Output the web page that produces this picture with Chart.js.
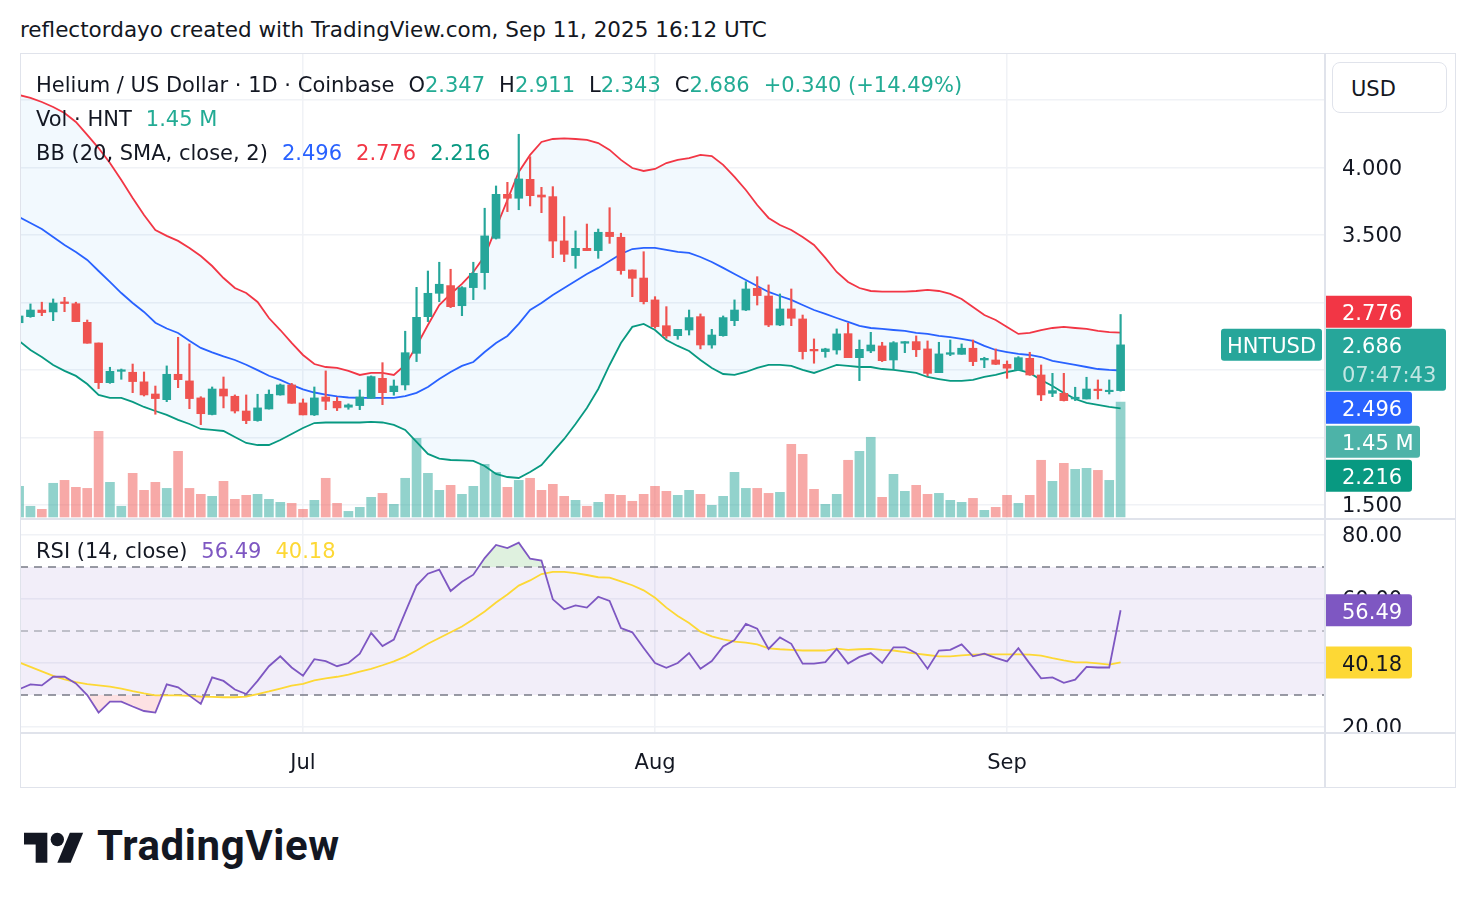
<!DOCTYPE html>
<html>
<head>
<meta charset="utf-8">
<script src="https://cdn.jsdelivr.net/npm/chart.js@4.4.1/dist/chart.umd.min.js"></script>
<style>
html,body{margin:0;padding:0;background:#fff;}
body{width:1476px;height:908px;position:relative;overflow:hidden;font-family:"DejaVu Sans",sans-serif;color:#131722;}
#title{position:absolute;left:20px;top:17px;font-size:21.5px;line-height:26px;white-space:nowrap;}
#frame{position:absolute;left:20px;top:53px;width:1436px;height:735px;box-sizing:border-box;border:1px solid #e0e3eb;pointer-events:none;}
#cv{position:absolute;left:20px;top:53px;}
.leg{position:absolute;left:36px;font-size:21px;line-height:24px;white-space:nowrap;}
.leg .s{margin-left:14px;}
.g{color:#22ab94;}
#usd{position:absolute;left:1332px;top:62px;width:115px;height:51px;box-sizing:border-box;border:1px solid #e0e3eb;border-radius:8px;background:#fff;font-size:21px;line-height:49px;padding-left:18px;padding-top:2px;}
#logo{position:absolute;left:24px;top:826px;width:60px;height:47px;}
#brand{position:absolute;left:97px;top:821px;font-family:Roboto,sans-serif;font-size:42px;font-weight:700;line-height:50px;color:#131722;letter-spacing:0.6px;}
</style>
</head>
<body>
<div id="title">reflectordayo created with TradingView.com, Sep 11, 2025 16:12 UTC</div>
<canvas id="cv" width="1435" height="734"></canvas>
<div id="frame"></div>
<div class="leg" id="l1" style="top:73px"></div>
<div class="leg" id="l2" style="top:107px"></div>
<div class="leg" id="l3" style="top:141px"></div>
<div class="leg" id="l4" style="top:539px"></div>
<div id="usd">USD</div>
<svg id="logo" viewBox="0 0 36 28"><path d="M14 22H7V11H0V4h14v18z" fill="#131722"/><circle cx="20" cy="8" r="4" fill="#131722"/><path d="M28 22h-8l7.5-18h8L28 22z" fill="#131722"/></svg>
<div id="brand">TradingView</div>
<script>
// ---- data (Jun 6 – Sep 11, 2025, daily) ----
const open = [2.85,2.895,2.944,2.930,3.004,2.991,2.853,2.700,2.406,2.490,
2.483,2.412,2.322,2.280,2.468,2.419,2.293,2.170,2.359,2.305,
2.196,2.125,2.211,2.315,2.389,2.256,2.167,2.300,2.268,2.224,
2.236,2.290,2.438,2.339,2.389,2.623,2.895,3.068,3.125,2.976,
3.110,3.221,3.475,3.801,3.772,3.912,3.796,3.784,3.456,3.347,
3.401,3.384,3.520,3.483,3.241,3.181,3.019,2.828,2.754,2.796,
2.895,2.685,2.754,2.865,2.944,3.105,3.048,2.833,2.952,2.878,
2.653,2.636,2.648,2.769,2.591,2.641,2.678,2.574,2.698,2.710,
2.656,2.480,2.616,2.616,2.661,2.574,2.574,2.542,2.500,2.586,
2.463,2.327,2.327,2.285,2.285,2.357,2.339,2.347];
const high = [2.91,2.989,3.002,3.026,3.038,3.002,2.870,2.700,2.520,2.507,
2.544,2.485,2.381,2.530,2.742,2.693,2.302,2.374,2.448,2.315,
2.315,2.320,2.352,2.396,2.401,2.285,2.374,2.493,2.298,2.249,
2.352,2.456,2.554,2.426,2.787,3.112,3.233,3.298,3.246,3.117,
3.298,3.698,3.863,3.890,4.246,4.080,3.853,3.858,3.636,3.530,
3.581,3.544,3.702,3.513,3.241,3.376,3.043,2.969,2.801,2.944,
2.915,2.801,2.900,3.019,3.154,3.191,3.130,3.063,3.100,2.907,
2.730,2.661,2.804,2.846,2.722,2.779,2.705,2.710,2.710,2.752,
2.715,2.705,2.722,2.693,2.722,2.594,2.656,2.567,2.599,2.631,
2.537,2.475,2.475,2.372,2.446,2.426,2.426,2.911];
const low = [2.84,2.89,2.902,2.865,2.932,2.858,2.698,2.362,2.401,2.431,
2.332,2.307,2.172,2.265,2.369,2.213,2.095,2.167,2.219,2.181,
2.102,2.120,2.210,2.313,2.253,2.167,2.162,2.206,2.199,2.209,
2.206,2.290,2.243,2.313,2.352,2.562,2.858,3.006,2.962,2.902,
3.021,3.098,3.470,3.673,3.687,3.715,3.665,3.332,3.302,3.253,
3.384,3.327,3.438,3.209,3.043,2.989,2.809,2.735,2.727,2.759,
2.656,2.661,2.750,2.828,2.940,2.981,2.821,2.828,2.828,2.581,
2.550,2.594,2.617,2.591,2.421,2.628,2.562,2.507,2.628,2.599,
2.456,2.480,2.606,2.616,2.532,2.517,2.540,2.438,2.495,2.460,
2.273,2.302,2.270,2.273,2.285,2.285,2.322,2.343];
const close = [2.90,2.944,2.925,2.996,2.992,2.858,2.698,2.406,2.490,2.500,
2.414,2.315,2.288,2.468,2.428,2.288,2.176,2.359,2.307,2.196,
2.125,2.219,2.320,2.389,2.253,2.167,2.293,2.268,2.219,2.241,
2.300,2.451,2.332,2.381,2.628,2.890,3.068,3.135,2.969,3.110,
3.216,3.493,3.801,3.772,3.915,3.791,3.781,3.455,3.357,3.401,
3.384,3.520,3.488,3.236,3.179,3.006,2.821,2.752,2.801,2.888,
2.685,2.759,2.888,2.944,3.100,3.051,2.833,2.952,2.883,2.636,
2.641,2.656,2.767,2.591,2.653,2.685,2.569,2.702,2.710,2.650,
2.475,2.619,2.628,2.661,2.562,2.586,2.542,2.513,2.591,2.463,
2.315,2.347,2.273,2.298,2.359,2.347,2.346,2.686];
const volumeM = [0.387,0.135,0.097,0.425,0.462,0.374,0.361,1.080,0.437,0.135,
0.551,0.336,0.437,0.361,0.828,0.361,0.286,0.261,0.450,0.223,
0.273,0.286,0.223,0.185,0.172,0.097,0.210,0.488,0.172,0.071,
0.122,0.248,0.298,0.160,0.488,0.992,0.551,0.336,0.399,0.286,
0.387,0.664,0.563,0.374,0.462,0.488,0.336,0.412,0.261,0.210,
0.135,0.185,0.286,0.273,0.198,0.286,0.387,0.324,0.273,0.336,
0.286,0.147,0.261,0.563,0.361,0.361,0.298,0.311,0.916,0.790,
0.349,0.160,0.286,0.715,0.828,1.005,0.248,0.538,0.324,0.399,
0.286,0.298,0.210,0.185,0.235,0.084,0.122,0.273,0.172,0.273,
0.715,0.450,0.677,0.601,0.614,0.588,0.462,1.45];
const bbUpper = [4.537,4.515,4.485,4.448,4.404,4.337,4.241,4.144,4.033,3.907,
3.774,3.648,3.537,3.493,3.456,3.404,3.344,3.270,3.181,3.107,
3.070,3.004,2.885,2.796,2.700,2.611,2.544,2.522,2.515,2.493,
2.463,2.478,2.478,2.463,2.537,2.678,2.833,2.981,3.063,3.137,
3.226,3.344,3.552,3.759,3.967,4.093,4.189,4.211,4.215,4.211,
4.204,4.181,4.130,4.056,3.996,3.974,3.989,4.033,4.056,4.070,
4.093,4.085,4.019,3.930,3.833,3.722,3.626,3.574,3.537,3.485,
3.426,3.330,3.226,3.152,3.107,3.085,3.081,3.081,3.081,3.085,
3.093,3.085,3.063,3.026,2.967,2.907,2.870,2.819,2.767,2.774,
2.796,2.811,2.819,2.811,2.804,2.789,2.781,2.776];
const bbBasis = [3.633,3.589,3.544,3.485,3.426,3.374,3.315,3.233,3.152,3.070,
2.996,2.930,2.850,2.807,2.774,2.716,2.663,2.630,2.600,2.574,
2.539,2.499,2.457,2.426,2.389,2.356,2.333,2.318,2.305,2.296,
2.293,2.293,2.293,2.293,2.307,2.330,2.374,2.433,2.485,2.530,
2.559,2.633,2.700,2.752,2.841,2.944,2.996,3.056,3.107,3.159,
3.211,3.256,3.307,3.359,3.396,3.404,3.404,3.389,3.374,3.367,
3.337,3.300,3.256,3.211,3.167,3.122,3.078,3.048,3.019,2.981,
2.944,2.915,2.885,2.856,2.826,2.811,2.804,2.796,2.789,2.774,
2.767,2.752,2.744,2.730,2.715,2.678,2.648,2.633,2.619,2.611,
2.596,2.567,2.552,2.537,2.522,2.507,2.500,2.496];
const bbLower = [2.715,2.648,2.596,2.537,2.493,2.456,2.396,2.315,2.293,2.293,
2.263,2.226,2.196,2.167,2.130,2.100,2.063,2.056,2.048,2.004,
1.959,1.944,1.944,1.981,2.026,2.070,2.107,2.111,2.111,2.111,
2.111,2.115,2.111,2.093,2.056,1.967,1.878,1.844,1.833,1.830,
1.826,1.789,1.730,1.707,1.700,1.744,1.796,1.893,1.989,2.100,
2.219,2.359,2.537,2.700,2.819,2.841,2.796,2.722,2.678,2.641,
2.574,2.515,2.470,2.463,2.485,2.515,2.537,2.537,2.530,2.500,
2.478,2.507,2.537,2.530,2.522,2.522,2.507,2.500,2.489,2.478,
2.448,2.433,2.419,2.419,2.426,2.448,2.463,2.485,2.500,2.478,
2.426,2.381,2.330,2.285,2.256,2.241,2.226,2.216];
const rsi = [31.8,33.3,33.0,35.7,35.7,33.6,30.0,24.5,27.9,27.9,
26.4,25.0,24.5,33.3,32.4,29.8,27.2,35.5,34.4,31.7,
30.3,34.4,39.0,42.1,38.6,36.0,41.2,40.6,39.0,40.0,
42.9,49.4,45.3,47.3,55.8,64.2,67.9,69.2,62.5,65.4,
67.6,72.8,76.9,75.9,77.6,72.6,72.0,59.9,56.8,58.0,
57.3,60.7,59.4,50.9,49.6,44.7,40.0,38.5,40.0,43.1,
38.2,40.6,45.2,47.2,52.2,50.7,44.4,48.0,46.0,39.8,
39.8,40.3,44.4,39.8,41.9,43.1,40.0,44.9,44.9,43.1,
38.2,43.9,44.1,45.8,42.1,42.9,41.6,40.5,44.6,39.8,
35.2,35.5,33.8,34.8,38.8,38.6,38.6,56.49];
const rsiMA = [40.2,38.8,37.4,36.0,34.9,34.0,33.4,33.0,32.6,32.0,
31.2,30.5,29.9,29.9,29.9,29.7,29.5,29.4,29.3,29.3,
29.5,30.3,31.1,32.0,32.9,33.5,34.6,35.2,35.7,36.4,
37.3,38.2,39.3,40.5,42.0,43.9,46.0,47.8,49.6,51.4,
53.7,56.1,58.9,61.4,64.2,65.8,67.8,68.5,68.5,68.1,
67.5,66.8,66.7,65.5,64.3,62.7,60.4,57.3,54.7,52.5,
49.8,48.3,47.4,46.7,46.4,45.8,44.6,44.3,44.1,43.9,
43.9,43.9,44.5,44.1,44.3,44.4,44.1,43.9,43.4,42.9,
42.5,42.1,42.1,42.4,42.6,42.7,42.7,42.7,42.7,42.6,
42.3,41.5,40.8,40.2,40.2,39.9,39.5,40.18];
const monthTickIndex = [25, 56, 87];
const monthTickLabels = ['Jul', 'Aug', 'Sep'];
const priceTicks = [1.5, 2.0, 2.5, 3.0, 3.5, 4.0, 4.5];
const rsiTicks = [20, 40, 60, 80];
const rsiLevels = [70, 50, 30];
const symbol = 'HNTUSD';
const countdown = '07:47:43';

// ---- chart ----
const FAM = '"DejaVu Sans", sans-serif';
const UP = '#26a69a', DN = '#ef5350';
const n = close.length - 1;
const xs = close.map((_, i) => i);
const isUp = i => close[i] >= open[i];
const pts = arr => arr.map((v, i) => ({x: i, y: v}));
const candleCol = xs.map(i => isUp(i) ? UP : DN);
const volCol = xs.map(i => isUp(i) ? 'rgba(38,166,154,0.5)' : 'rgba(239,83,80,0.5)');
const PRICE_MIN = 1.396, PRICE_MAX = 4.848, PRICE_PANE = 466;

// legends
const chg = close[n] - close[n - 1];
const sgn = chg >= 0 ? '+' : '';
document.getElementById('l1').innerHTML = 'Helium / US Dollar · 1D · Coinbase' +
  `<span class="s">O<span class="g">${open[n].toFixed(3)}</span></span>` +
  `<span class="s">H<span class="g">${high[n].toFixed(3)}</span></span>` +
  `<span class="s">L<span class="g">${low[n].toFixed(3)}</span></span>` +
  `<span class="s">C<span class="g">${close[n].toFixed(3)}</span></span>` +
  `<span class="s g">${sgn}${chg.toFixed(3)} (${sgn}${(chg / close[n - 1] * 100).toFixed(2)}%)</span>`;
document.getElementById('l2').innerHTML = `Vol · HNT<span class="s g">${volumeM[n].toFixed(2)} M</span>`;
document.getElementById('l3').innerHTML = 'BB (20, SMA, close, 2)' +
  `<span class="s" style="color:#2962ff">${bbBasis[n].toFixed(3)}</span>` +
  `<span class="s" style="color:#f23645">${bbUpper[n].toFixed(3)}</span>` +
  `<span class="s" style="color:#089981">${bbLower[n].toFixed(3)}</span>`;
document.getElementById('l4').innerHTML = 'RSI (14, close)' +
  `<span class="s" style="color:#7e57c2">${rsi[n].toFixed(2)}</span>` +
  `<span class="s" style="color:#fdd835">${rsiMA[n].toFixed(2)}</span>`;

function badge(ctx, x, top, w, h, bg, lines, fg) {
  ctx.fillStyle = bg;
  ctx.beginPath();
  ctx.roundRect(x, top, w, h, [0, 3, 3, 0]);
  ctx.fill();
  ctx.font = '21px ' + FAM;
  ctx.textBaseline = 'middle';
  ctx.textAlign = 'left';
  lines.forEach((t, k) => {
    ctx.fillStyle = k ? 'rgba(255,255,255,0.72)' : fg;
    ctx.fillText(t, x + 16, top + 19 + k * 29);
  });
}

const panePlugin = {
  id: 'panes',
  beforeDatasetsDraw(chart) {
    const {ctx, chartArea: a} = chart;
    const yr = chart.scales.yr;
    const y70 = yr.getPixelForValue(rsiLevels[0]);
    const y50 = yr.getPixelForValue(rsiLevels[1]);
    const y30 = yr.getPixelForValue(rsiLevels[2]);
    ctx.save();
    ctx.fillStyle = 'rgba(126,87,194,0.1)';
    ctx.fillRect(a.left, y70, a.right - a.left, y30 - y70);
    ctx.lineWidth = 1.5;
    ctx.setLineDash([8, 6]);
    ctx.strokeStyle = '#787b86';
    [y70, y30].forEach(y => { ctx.beginPath(); ctx.moveTo(a.left, y); ctx.lineTo(a.right, y); ctx.stroke(); });
    ctx.strokeStyle = 'rgba(120,123,134,0.55)';
    ctx.beginPath(); ctx.moveTo(a.left, y50); ctx.lineTo(a.right, y50); ctx.stroke();
    ctx.restore();
  },
  afterDraw(chart) {
    const {ctx, chartArea: a, width: W, height: H} = chart;
    const y = chart.scales.y, yr = chart.scales.yr, yv = chart.scales.yv;
    ctx.save();
    ctx.fillStyle = '#fff';
    ctx.fillRect(a.right + 1, a.bottom + 1, W - a.right - 2, 12);
    ctx.strokeStyle = '#e0e3eb';
    ctx.lineWidth = 2;
    ctx.beginPath(); ctx.moveTo(0, y.bottom); ctx.lineTo(W, y.bottom); ctx.stroke();
    ctx.beginPath(); ctx.moveTo(0, a.bottom); ctx.lineTo(W, a.bottom); ctx.stroke();
    ctx.beginPath(); ctx.moveTo(a.right, 0); ctx.lineTo(a.right, H); ctx.stroke();

    const bx = a.right + 1;
    const pc = y.getPixelForValue(close[n]);
    const pTop = pc - 16;
    badge(ctx, bx, pTop, 120, 62, UP, [close[n].toFixed(3), countdown], '#fff');
    ctx.fillStyle = UP;
    ctx.beginPath(); ctx.roundRect(a.right - 104, pTop, 101, 32, 3); ctx.fill();
    ctx.fillStyle = '#fff'; ctx.font = '21px ' + FAM; ctx.textAlign = 'center'; ctx.textBaseline = 'middle';
    ctx.fillText(symbol, a.right - 53.5, pTop + 19);
    const uTop = pTop - 1 - 32;
    badge(ctx, bx, uTop, 86, 32, '#f23645', [bbUpper[n].toFixed(3)], '#fff');
    const below = [
      {p: y.getPixelForValue(bbBasis[n]), t: bbBasis[n].toFixed(3), c: '#2962ff', w: 86},
      {p: yv.getPixelForValue(volumeM[n]), t: volumeM[n].toFixed(2) + ' M', c: '#4db3a8', w: 94},
      {p: y.getPixelForValue(bbLower[n]), t: bbLower[n].toFixed(3), c: '#089981', w: 86}
    ].sort((a1, b1) => a1.p - b1.p);
    let prev = pTop + 62;
    below.forEach((b, k) => {
      const top = Math.max(b.p - 16, prev + (k ? 2 : 1));
      badge(ctx, bx, top, b.w, 32, b.c, [b.t], '#fff');
      prev = top + 32;
    });
    badge(ctx, bx, yr.getPixelForValue(rsi[n]) - 16, 86, 32, '#7e57c2', [rsi[n].toFixed(2)], '#fff');
    badge(ctx, bx, yr.getPixelForValue(rsiMA[n]) - 16, 86, 32, '#fdd835', [rsiMA[n].toFixed(2)], '#131722');
    ctx.restore();
  }
};

// hide price-axis labels that sit under the stacked value badges (value space)
const unitPerPx = (PRICE_MAX - PRICE_MIN) / PRICE_PANE;
function priceLabel(v) {
  if (v < close[n] + 60 * unitPerPx && v > close[n] - 152 * unitPerPx) return '';
  return Number(v).toFixed(3);
}

const noPadY = s => { s.width = 130; s.paddingTop = 0; s.paddingBottom = 0; };
const gridCol = '#f0f2f6';
new Chart(document.getElementById('cv'), {
  type: 'line',
  data: {
    datasets: [
      {type: 'bar', data: xs.map(i => ({x: i, y: [open[i], close[i]]})), backgroundColor: candleCol,
       barThickness: 8, minBarLength: 1.5, grouped: false, order: 0, xAxisID: 'x', yAxisID: 'y'},
      {type: 'bar', data: xs.map(i => ({x: i, y: [low[i], high[i]]})), backgroundColor: candleCol,
       barThickness: 1.5, grouped: false, order: 1, xAxisID: 'x', yAxisID: 'y'},
      {type: 'line', data: pts(bbUpper), borderColor: '#f23645', borderWidth: 1.8, pointRadius: 0,
       fill: 4, backgroundColor: 'rgba(33,150,243,0.06)', order: 3, yAxisID: 'y'},
      {type: 'line', data: pts(bbBasis), borderColor: '#2962ff', borderWidth: 1.8, pointRadius: 0,
       fill: false, order: 3, yAxisID: 'y'},
      {type: 'line', data: pts(bbLower), borderColor: '#089981', borderWidth: 1.8, pointRadius: 0,
       fill: false, order: 3, yAxisID: 'y'},
      {type: 'bar', data: pts(volumeM), backgroundColor: volCol, barThickness: 9, grouped: false,
       order: 6, yAxisID: 'yv'},
      {type: 'line', data: pts(rsi), borderColor: '#7e57c2', borderWidth: 1.8, pointRadius: 0,
       fill: {target: {value: 70}, above: 'rgba(76,175,80,0.18)', below: 'rgba(0,0,0,0)'}, order: 2, yAxisID: 'yr'},
      {type: 'line', data: pts(rsi), borderColor: 'rgba(0,0,0,0)', borderWidth: 0, pointRadius: 0,
       fill: {target: {value: 30}, above: 'rgba(0,0,0,0)', below: 'rgba(242,54,69,0.15)'}, order: 4, yAxisID: 'yr'},
      {type: 'line', data: pts(rsiMA), borderColor: '#fdd835', borderWidth: 1.8, pointRadius: 0,
       fill: false, order: 2, yAxisID: 'yr'}
    ]
  },
  options: {
    responsive: false, animation: false, devicePixelRatio: 1,
    layout: {padding: 0},
    plugins: {legend: {display: false}, tooltip: {enabled: false},
      filler: {drawTime: 'beforeDatasetsDraw', propagate: false}},
    elements: {line: {tension: 0}, point: {radius: 0}},
    scales: {
      x: {type: 'linear', min: 0.079, max: 115.0, offset: false, bounds: 'data',
        afterBuildTicks: s => { s.ticks = monthTickIndex.map(v => ({value: v})); },
        afterFit: s => { s.height = 54; s.paddingLeft = 0; s.paddingRight = 0; },
        ticks: {callback: (v, i) => monthTickLabels[i], font: {size: 21, family: FAM},
          color: '#131722', padding: 18, maxRotation: 0, autoSkip: false},
        grid: {color: gridCol, lineWidth: 1.5, drawTicks: false, offset: false},
        border: {display: false}},
      y: {type: 'linear', position: 'right', stack: 'pane', stackWeight: PRICE_PANE, min: PRICE_MIN, max: PRICE_MAX, bounds: 'data',
        afterBuildTicks: s => { s.ticks = priceTicks.map(v => ({value: v})); },
        afterFit: noPadY,
        ticks: {callback: priceLabel, font: {size: 21, family: FAM}, color: '#131722', padding: 17, labelOffset: 2},
        grid: {color: gridCol, lineWidth: 1.5, drawTicks: false},
        border: {display: false}},
      yr: {type: 'linear', position: 'right', stack: 'pane', stackWeight: 214, min: 18.125, max: 85.0, bounds: 'data',
        afterBuildTicks: s => { s.ticks = rsiTicks.map(v => ({value: v})); },
        afterFit: noPadY,
        ticks: {callback: v => Number(v).toFixed(2), font: {size: 21, family: FAM}, color: '#131722', padding: 17, labelOffset: 2},
        grid: {color: gridCol, lineWidth: 1.5, drawTicks: false},
        border: {display: false}},
      yv: {type: 'linear', position: 'right', display: false, min: -2.7235, max: 5.8505,
        afterFit: s => { s.paddingTop = 0; s.paddingBottom = 0; }}
    }
  },
  plugins: [panePlugin]
});
</script>
</body>
</html>
